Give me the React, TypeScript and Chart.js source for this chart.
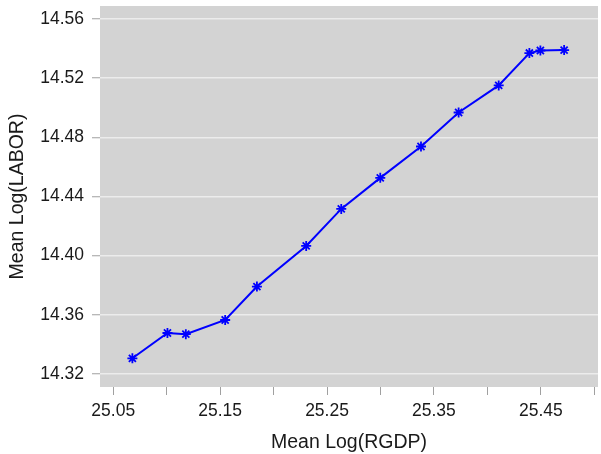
import React, { useEffect, useRef } from "react";
import { Chart, registerables } from "chart.js";

Chart.register(...registerables);

const xValues = [25.0679, 25.1007, 25.1179, 25.1547, 25.1844, 25.2305, 25.2633, 25.2998, 25.3379, 25.3731, 25.4106, 25.4393, 25.4496, 25.4718];
const yValues = [14.3306, 14.3477, 14.3469, 14.3565, 14.3791, 14.4066, 14.4316, 14.4526, 14.4738, 14.4968, 14.5151, 14.537, 14.5387, 14.539];
const xTicks = [25.05, 25.1, 25.15, 25.2, 25.25, 25.3, 25.35, 25.4, 25.45, 25.5];
const xTickLabels = ["25.05", "25.15", "25.25", "25.35", "25.45"];
const yTicks = [14.32, 14.36, 14.4, 14.44, 14.48, 14.52, 14.56];
const xTitle = "Mean Log(RGDP)";
const yTitle = "Mean Log(LABOR)";

const FONT = "'Liberation Sans', Arial, Helvetica, sans-serif";

const bgPlugin = {
  id: "plotBg",
  beforeDraw(chart: any) {
    const { ctx, chartArea } = chart;
    if (!chartArea) return;
    ctx.save();
    ctx.fillStyle = "#d3d3d3";
    ctx.fillRect(chartArea.left, chartArea.top, chartArea.right - chartArea.left, chartArea.bottom - chartArea.top);
    ctx.restore();
  },
};

export default function App() {
  const ref = useRef<HTMLCanvasElement>(null);
  useEffect(() => {
    document.body.style.margin = "0";
    const chart = new Chart(ref.current!, {
      type: "line",
      data: {
        datasets: [
          {
            data: xValues.map((x, i) => ({ x, y: yValues[i] })),
            borderColor: "#0000ff",
            backgroundColor: "#0000ff",
            borderWidth: 2,
            pointStyle: "star",
            pointRadius: 5,
            pointBorderColor: "#0000ff",
            pointBorderWidth: 1.8,
            tension: 0,
          },
        ],
      },
      plugins: [bgPlugin],
      options: {
        animation: false,
        responsive: false,
        maintainAspectRatio: false,
        layout: { autoPadding: false, padding: { top: 6, right: 3, left: 0, bottom: 0 } },
        plugins: { legend: { display: false }, tooltip: { enabled: false } },
        scales: {
          x: {
            type: "linear",
            min: 25.0376,
            max: 25.5035,
            afterBuildTicks: (s: any) => {
              s.ticks = xTicks.map((v) => ({ value: v }));
            },
            afterFit: (s: any) => {
              s.height = 67;
              s.paddingLeft = 0;
              s.paddingRight = 0;
            },
            border: { display: false },
            grid: { drawOnChartArea: false, tickLength: 8, tickColor: "#a0a0a0", tickWidth: 1 },
            ticks: {
              autoSkip: false,
              maxRotation: 0,
              padding: 6,
              color: "#1a1a1a",
              font: { family: FONT, size: 17.5 },
              callback: (v: any) => {
                const s = Number(v).toFixed(2);
                return xTickLabels.includes(s) ? s : "";
              },
            },
            title: { display: true, text: xTitle, color: "#1a1a1a", font: { family: FONT, size: 19.5 }, padding: { top: 2, bottom: 0 } },
          },
          y: {
            type: "linear",
            min: 14.3112,
            max: 14.5688,
            afterBuildTicks: (s: any) => {
              s.ticks = yTicks.map((v) => ({ value: v }));
            },
            afterFit: (s: any) => {
              s.width = 100;
              s.paddingTop = 0;
              s.paddingBottom = 0;
            },
            border: { display: false },
            grid: { color: "#ececec", lineWidth: 1.5, tickLength: 8, tickColor: "#a0a0a0", tickWidth: 1 },
            ticks: {
              padding: 8,
              color: "#1a1a1a",
              font: { family: FONT, size: 17.5 },
              callback: (v: any) => Number(v).toFixed(2),
            },
            title: { display: true, text: yTitle, color: "#1a1a1a", font: { family: FONT, size: 19.5 }, padding: { top: 6, bottom: 0 } },
          },
        },
      },
    } as any);
    return () => chart.destroy();
  }, []);
  return (
    <div style={{ position: "absolute", left: 0, top: 0, width: 601, height: 454 }}>
      <canvas ref={ref} width={601} height={454} style={{ width: 601, height: 454, display: "block" }} />
    </div>
  );
}
